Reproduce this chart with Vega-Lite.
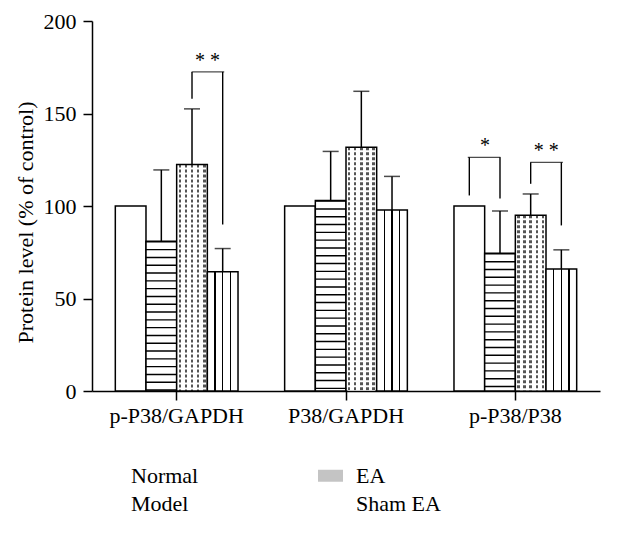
{
  "$schema": "https://vega.github.io/schema/vega-lite/v6.json",
  "description": "Protein level (% of control) of p-P38/GAPDH, P38/GAPDH and p-P38/P38 for four groups",
  "width": 508,
  "height": 370,
  "padding": {"left": 14, "top": 10, "right": 5, "bottom": 5},
  "datasets": {
    "bars": [
      {"cat": "p-P38/GAPDH", "group": "Normal", "value": 100},
      {"cat": "p-P38/GAPDH", "group": "Model", "value": 81, "upper": 119.5},
      {"cat": "p-P38/GAPDH", "group": "EA", "value": 122.5, "upper": 152.5},
      {"cat": "p-P38/GAPDH", "group": "Sham EA", "value": 64.5, "upper": 77},
      {"cat": "P38/GAPDH", "group": "Normal", "value": 100},
      {"cat": "P38/GAPDH", "group": "Model", "value": 103, "upper": 129.5},
      {"cat": "P38/GAPDH", "group": "EA", "value": 131.7, "upper": 162},
      {"cat": "P38/GAPDH", "group": "Sham EA", "value": 97.8, "upper": 116},
      {"cat": "p-P38/P38", "group": "Normal", "value": 100},
      {"cat": "p-P38/P38", "group": "Model", "value": 74.5, "upper": 97.3},
      {"cat": "p-P38/P38", "group": "EA", "value": 95, "upper": 106.5},
      {"cat": "p-P38/P38", "group": "Sham EA", "value": 66, "upper": 76.3}
    ],
    "brackets": [
      {"cat": "p-P38/GAPDH", "a": "EA", "b": "Sham EA", "top": 172.5, "lowA": 158, "lowB": 90, "label": "* *"},
      {"cat": "p-P38/P38", "a": "Normal", "b": "Model", "top": 126.3, "lowA": 105.7, "lowB": 104, "label": "*"},
      {"cat": "p-P38/P38", "a": "EA", "b": "Sham EA", "top": 123.6, "lowA": 112, "lowB": 89.5, "label": "* *"}
    ]
  },
  "layer": [
    {
      "data": {"name": "bars"},
      "mark": {"type": "bar", "stroke": "black", "strokeWidth": 1.5},
      "encoding": {
        "x": {
          "field": "cat", "type": "nominal", "title": null,
          "sort": ["p-P38/GAPDH", "P38/GAPDH", "p-P38/P38"],
          "scale": {"domain": ["p-P38/GAPDH", "P38/GAPDH", "p-P38/P38"], "paddingInner": 0, "paddingOuter": -0.0275, "align": 0},
          "axis": {"labelAngle": 0, "labelPadding": 5}
        },
        "xOffset": {
          "field": "group", "type": "nominal",
          "scale": {"domain": ["Normal", "Model", "EA", "Sham EA"], "paddingInner": 0, "paddingOuter": 0.76}
        },
        "y": {
          "field": "value", "type": "quantitative", "title": "Protein level (% of control)",
          "scale": {"domain": [0, 200]},
          "axis": {"values": [0, 50, 100, 150, 200], "titleY": 201}
        },
        "stroke": {"value": "black"},
        "fill": {
          "field": "group", "type": "nominal",
          "scale": {"domain": ["Normal", "EA", "Model", "Sham EA"], "range": ["white", "#c4c4c4", "white", "white"]},
          "condition": [
            {"test": "datum.group === 'EA'", "value": {"gradient": "linear", "x1": 0, "y1": 0, "x2": 1, "y2": 0, "stops": [
              {"offset": 0, "color": "#fff"},
              {"offset": 0.06, "color": "#fff"}, {"offset": 0.06, "color": "#555"}, {"offset": 0.14, "color": "#555"}, {"offset": 0.14, "color": "#fff"},
              {"offset": 0.26, "color": "#fff"}, {"offset": 0.26, "color": "#555"}, {"offset": 0.34, "color": "#555"}, {"offset": 0.34, "color": "#fff"},
              {"offset": 0.46, "color": "#fff"}, {"offset": 0.46, "color": "#555"}, {"offset": 0.54, "color": "#555"}, {"offset": 0.54, "color": "#fff"},
              {"offset": 0.66, "color": "#fff"}, {"offset": 0.66, "color": "#555"}, {"offset": 0.74, "color": "#555"}, {"offset": 0.74, "color": "#fff"},
              {"offset": 0.86, "color": "#fff"}, {"offset": 0.86, "color": "#555"}, {"offset": 0.94, "color": "#555"}, {"offset": 0.94, "color": "#fff"},
              {"offset": 1, "color": "#fff"}
            ]}},
            {"test": "datum.group === 'Sham EA'", "value": {"gradient": "linear", "x1": 0, "y1": 0, "x2": 1, "y2": 0, "stops": [
              {"offset": 0, "color": "#fff"},
              {"offset": 0.227, "color": "#fff"}, {"offset": 0.227, "color": "#000"}, {"offset": 0.273, "color": "#000"}, {"offset": 0.273, "color": "#fff"},
              {"offset": 0.477, "color": "#fff"}, {"offset": 0.477, "color": "#000"}, {"offset": 0.523, "color": "#000"}, {"offset": 0.523, "color": "#fff"},
              {"offset": 0.727, "color": "#fff"}, {"offset": 0.727, "color": "#000"}, {"offset": 0.773, "color": "#000"}, {"offset": 0.773, "color": "#fff"},
              {"offset": 1, "color": "#fff"}
            ]}}
          ],
          "legend": {
            "orient": "bottom", "direction": "horizontal", "columns": 2, "title": null, "offset": 36,
            "symbolSize": 625, "symbolOpacity": 1, "symbolStrokeColor": "black", "symbolStrokeWidth": 1.5,
            "labelFontSize": 22, "labelOffset": 12, "rowPadding": 3.5, "columnPadding": 116
          }
        }
      }
    },
    {
      "data": {"name": "bars"},
      "transform": [{"filter": "datum.group === 'Model'"}],
      "mark": {"type": "rule", "stroke": "black", "strokeWidth": 31.25, "strokeDash": [1.4, 6.4], "strokeCap": "butt"},
      "encoding": {
        "x": {"field": "cat", "type": "nominal"},
        "xOffset": {"field": "group", "type": "nominal"},
        "y": {"field": "value", "type": "quantitative"},
        "y2": {"datum": 0}
      }
    },
    {
      "data": {"name": "bars"},
      "transform": [{"filter": "datum.group === 'EA'"}],
      "mark": {"type": "rule", "stroke": "white", "strokeWidth": 28, "strokeDash": [2, 3], "strokeDashOffset": 2, "strokeCap": "butt"},
      "encoding": {
        "x": {"field": "cat", "type": "nominal"},
        "xOffset": {"field": "group", "type": "nominal"},
        "y": {"field": "value", "type": "quantitative"},
        "y2": {"datum": 0}
      }
    },
    {
      "data": {"name": "bars"},
      "mark": {"type": "point", "filled": true},
      "encoding": {
        "x": {"field": "cat", "type": "nominal"},
        "xOffset": {"field": "group", "type": "nominal"},
        "y": {"field": "value", "type": "quantitative"},
        "opacity": {"value": 0},
        "stroke": {"value": "black"},
        "strokeWidth": {"value": 1.5},
        "fill": {
          "field": "group", "type": "nominal",
          "legend": {
            "orient": "bottom", "direction": "horizontal", "columns": 2, "title": null, "offset": 36,
            "symbolSize": 625, "symbolOpacity": 1, "symbolStrokeColor": "black", "symbolStrokeWidth": 1.5,
            "labelFontSize": 22, "labelOffset": 12, "rowPadding": 3.5, "columnPadding": 116
          }
        },
        "shape": {
          "field": "group", "type": "nominal",
          "scale": {
            "domain": ["Normal", "EA", "Model", "Sham EA"],
            "range": [
              "M-1,-0.48H1V0.48H-1Z",
              "M-1,-0.48H1V0.48H-1Z",
              "M-1,-0.48H1V0.48H-1ZM-1,-0.24H1M-1,0H1M-1,0.24H1",
              "M-1,-0.48H1V0.48H-1ZM-0.5,-0.48V0.48M0,-0.48V0.48M0.5,-0.48V0.48"
            ]
          },
          "legend": {
            "orient": "bottom", "direction": "horizontal", "columns": 2, "title": null, "offset": 36,
            "symbolSize": 625, "symbolOpacity": 1, "symbolStrokeColor": "black", "symbolStrokeWidth": 1.5,
            "labelFontSize": 22, "labelOffset": 12, "rowPadding": 3.5, "columnPadding": 116
          }
        }
      }
    },
    {
      "data": {"name": "bars"},
      "transform": [{"filter": "isValid(datum.upper)"}],
      "mark": {"type": "rule", "stroke": "black", "strokeWidth": 1.5},
      "encoding": {
        "x": {"field": "cat", "type": "nominal"},
        "xOffset": {"field": "group", "type": "nominal"},
        "y": {"field": "value", "type": "quantitative"},
        "y2": {"field": "upper"}
      }
    },
    {
      "data": {"name": "bars"},
      "transform": [{"filter": "isValid(datum.upper)"}],
      "mark": {"type": "tick", "color": "black", "thickness": 1.5, "size": 16},
      "encoding": {
        "x": {"field": "cat", "type": "nominal"},
        "xOffset": {"field": "group", "type": "nominal"},
        "y": {"field": "upper", "type": "quantitative"}
      }
    },
    {
      "data": {"name": "brackets"},
      "mark": {"type": "rule", "stroke": "black", "strokeWidth": 1.4},
      "encoding": {
        "x": {"field": "cat", "type": "nominal"},
        "xOffset": {"field": "a", "type": "nominal"},
        "y": {"field": "lowA", "type": "quantitative"},
        "y2": {"field": "top"}
      }
    },
    {
      "data": {"name": "brackets"},
      "mark": {"type": "rule", "stroke": "black", "strokeWidth": 1.4},
      "encoding": {
        "x": {"field": "cat", "type": "nominal"},
        "xOffset": {"field": "b", "type": "nominal"},
        "y": {"field": "lowB", "type": "quantitative"},
        "y2": {"field": "top"}
      }
    },
    {
      "data": {"name": "brackets"},
      "transform": [{"filter": "datum.a === 'EA'"}],
      "mark": {"type": "tick", "color": "black", "thickness": 1.4, "size": 32.6, "xOffset": 31.25},
      "encoding": {
        "x": {"field": "cat", "type": "nominal"},
        "y": {"field": "top", "type": "quantitative"}
      }
    },
    {
      "data": {"name": "brackets"},
      "transform": [{"filter": "datum.a === 'Normal'"}],
      "mark": {"type": "tick", "color": "black", "thickness": 1.4, "size": 32.6, "xOffset": -31.25},
      "encoding": {
        "x": {"field": "cat", "type": "nominal"},
        "y": {"field": "top", "type": "quantitative"}
      }
    },
    {
      "data": {"name": "brackets"},
      "mark": {"type": "text", "fontSize": 20, "dx": 15.6, "dy": -5, "baseline": "alphabetic", "color": "black"},
      "encoding": {
        "x": {"field": "cat", "type": "nominal"},
        "xOffset": {"field": "a", "type": "nominal"},
        "y": {"field": "top", "type": "quantitative"},
        "text": {"field": "label"}
      }
    }
  ],
  "config": {
    "font": "Liberation Serif",
    "view": {"stroke": null},
    "axis": {
      "grid": false,
      "domainColor": "black",
      "domainWidth": 1.5,
      "tickColor": "black",
      "tickWidth": 1.5,
      "tickSize": 9,
      "labelColor": "black",
      "labelFontSize": 22,
      "labelPadding": 7,
      "titleColor": "black",
      "titleFontSize": 22,
      "titleFontWeight": "normal",
      "titlePadding": 6
    },
    "legend": {
      "labelColor": "black",
      "labelFont": "Liberation Serif"
    }
  }
}
